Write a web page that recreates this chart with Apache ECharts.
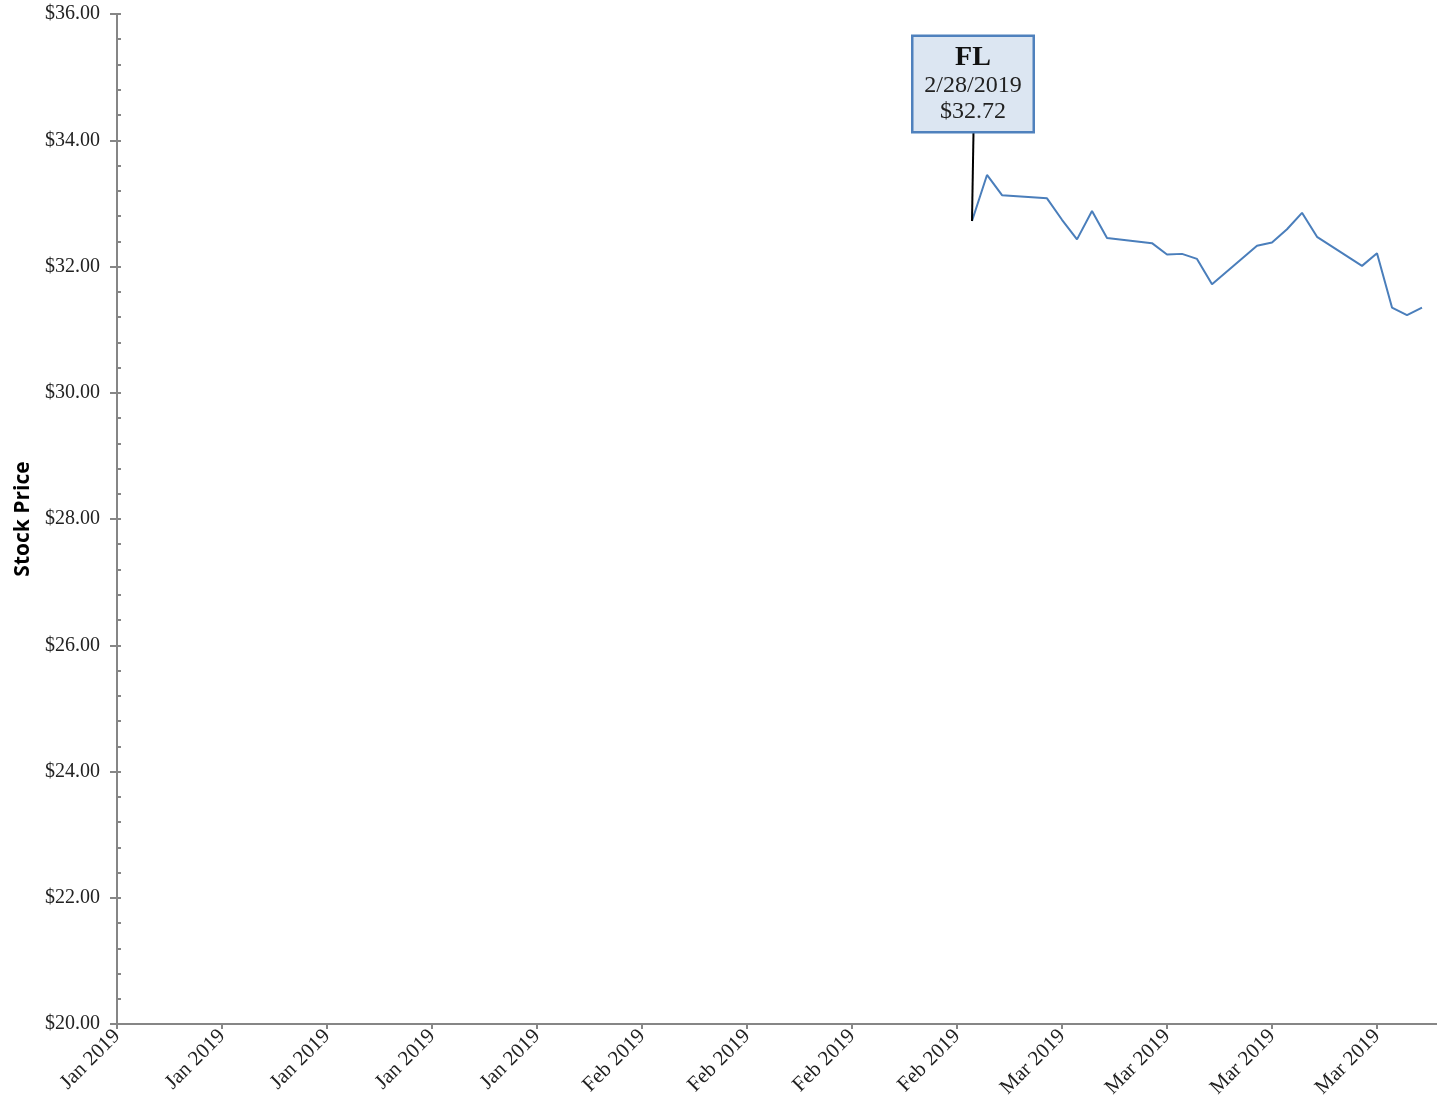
<!DOCTYPE html>
<html>
<head>
<meta charset="utf-8">
<script src="https://cdn.jsdelivr.net/npm/echarts@6/dist/echarts.min.js"></script>
<style>html,body{margin:0;padding:0;background:#fff;}#c{width:1437px;height:1110px;}</style>
</head>
<body>
<div id="c"></div>
<script>
var ticker = 'FL';
var axisStart = '2019-01-02';
var axisEnd = '2019-03-31';
var dates = ['2019-02-28','2019-03-01','2019-03-02','2019-03-05','2019-03-06','2019-03-07','2019-03-08','2019-03-09','2019-03-12','2019-03-13','2019-03-14','2019-03-15','2019-03-16','2019-03-19','2019-03-20','2019-03-21','2019-03-22','2019-03-23','2019-03-26','2019-03-27','2019-03-28','2019-03-29','2019-03-30'];
var prices = [32.72,33.45,33.13,33.08,32.74,32.43,32.88,32.45,32.37,32.19,32.20,32.12,31.72,32.33,32.38,32.59,32.85,32.47,32.01,32.21,31.35,31.23,31.35];
var calloutLabel = ['2/28/2019', '$32.72'];
var calloutTopValue = 34.13;

var DAY = 86400000;
function toMs(s){ var p = s.split('-'); return Date.UTC(+p[0], +p[1]-1, +p[2]); }
var t0 = toMs(axisStart);
function dayIdx(s){ return Math.round((toMs(s) - t0) / DAY); }
var MONTHS = ['Jan','Feb','Mar','Apr','May','Jun','Jul','Aug','Sep','Oct','Nov','Dec'];
var seriesData = dates.map(function(d, i){ return [dayIdx(d), prices[i]]; });
var x0 = seriesData[0][0], y0 = seriesData[0][1];

var serif = '"Liberation Serif", "DejaVu Serif", serif';
var chart = echarts.init(document.getElementById('c'));
chart.setOption({
  animation: false,
  backgroundColor: '#fff',
  grid: { left: 117, right: 0, top: 14, bottom: 86, containLabel: false },
  xAxis: {
    type: 'value', min: 0, max: dayIdx(axisEnd), interval: 7,
    splitLine: { show: false },
    axisLine: { lineStyle: { color: '#868686', width: 2 } },
    axisTick: { show: true, length: 5, lineStyle: { color: '#868686', width: 2 } },
    axisLabel: {
      rotate: 45, margin: 9, fontFamily: serif, fontSize: 21, color: '#222',
      showMaxLabel: false,
      formatter: function(v){ var d = new Date(t0 + v*DAY); return MONTHS[d.getUTCMonth()] + ' ' + d.getUTCFullYear(); }
    }
  },
  yAxis: [{
    type: 'value', min: 20, max: 36, interval: 2,
    name: 'Stock Price', nameLocation: 'middle', nameGap: 83,
    nameTextStyle: { fontFamily: '"Open Sans", "Noto Sans", sans-serif', fontWeight: 'bold', fontSize: 21, color: '#000' },
    splitLine: { show: false },
    axisLine: { show: true, lineStyle: { color: '#868686', width: 2 } },
    axisTick: { show: true, length: 7, lineStyle: { color: '#868686', width: 2 } },
    axisLabel: { margin: 17, fontFamily: serif, fontSize: 20, color: '#222', formatter: function(v){ return '$' + v.toFixed(2); } }
  }, {
    type: 'value', min: 20, max: 36, interval: 2, position: 'left',
    splitLine: { show: false },
    axisLine: { show: false },
    axisLabel: { show: false },
    axisTick: { show: true, inside: true, length: 4, lineStyle: { color: '#868686', width: 2 } },
    minorTick: { show: true, splitNumber: 5, length: 4, lineStyle: { color: '#868686', width: 2 } }
  }],
  series: [{
    type: 'line', data: seriesData, showSymbol: false, symbol: 'none',
    lineStyle: { color: '#4a7ebb', width: 2 },
    markLine: {
      silent: true, symbol: 'none', label: { show: false },
      lineStyle: { color: '#000', width: 2, type: 'solid' },
      data: [[{ coord: [x0, y0] }, { coord: [x0 + 0.1, calloutTopValue] }]]
    },
    markPoint: {
      silent: true, symbol: 'rect', symbolSize: 0,
      data: [{ coord: [x0, y0] }],
      label: {
        show: true, position: 'inside', offset: [1, -137],
        backgroundColor: '#dce6f2', borderColor: '#4f81bd', borderWidth: 2.5,
        padding: [6, 5, 6, 5], width: 109, align: 'center',
        formatter: '{t|' + ticker + '}\n{d|' + calloutLabel[0] + '}\n{d|' + calloutLabel[1] + '}',
        rich: {
          t: { fontFamily: serif, fontSize: 28, fontWeight: 'bold', color: '#111', lineHeight: 30, align: 'center' },
          d: { fontFamily: serif, fontSize: 24, color: '#222', lineHeight: 26, align: 'center' }
        }
      }
    }
  }]
});
</script>
</body>
</html>
